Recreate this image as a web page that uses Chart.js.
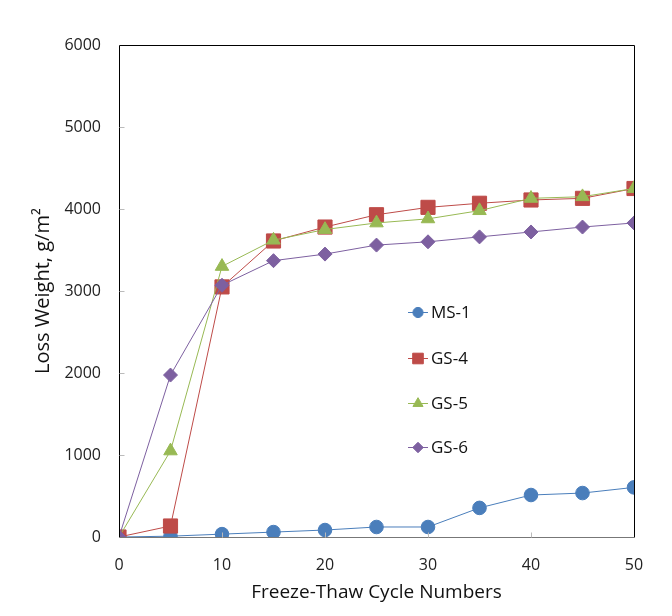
<!DOCTYPE html>
<html>
<head>
<meta charset="utf-8">
<script src="https://cdn.jsdelivr.net/npm/chart.js@4/dist/chart.umd.min.js"></script>
<style>
html,body{margin:0;padding:0;background:#fff;}
#wrap{width:672px;height:616px;position:relative;}
</style>
</head>
<body>
<div id="wrap"><canvas id="c" width="672" height="616"></canvas></div>
<script>
const cycles = [0, 5, 10, 15, 20, 25, 30, 35, 40, 45, 50];
const seriesNames = ['MS-1', 'GS-4', 'GS-5', 'GS-6'];
const ms1 = [0, 10, 35, 60, 85, 122, 122, 355, 512, 536, 605];
const gs4 = [0, 134, 3050, 3610, 3780, 3930, 4020, 4070, 4110, 4130, 4250];
const gs5 = [0, 1050, 3300, 3620, 3750, 3830, 3880, 3980, 4130, 4150, 4250];
const gs6 = [0, 1975, 3070, 3370, 3450, 3560, 3600, 3660, 3720, 3780, 3830];
const xTicks = [0, 10, 20, 30, 40, 50];
const yTicks = [0, 1000, 2000, 3000, 4000, 5000, 6000];

const colors = ['#4a7ebb', '#be4b48', '#98b954', '#7d60a0'];
const styles = ['circle', 'rect', 'triangle', 'rectRot'];
const radii = [6.8, 10, 7.8, 7];
const values = [ms1, gs4, gs5, gs6];
const FONT = "'Open Sans', 'DejaVu Sans', sans-serif";

const datasets = values.map((v, i) => ({
  label: seriesNames[i],
  data: cycles.map((x, j) => ({x: x, y: v[j]})),
  borderColor: colors[i],
  backgroundColor: colors[i],
  pointBackgroundColor: colors[i],
  pointBorderColor: colors[i],
  pointBorderWidth: 1,
  pointStyle: styles[i],
  pointRadius: radii[i],
  borderWidth: 1,
  tension: 0,
  order: 3 - i
}));

const boxPlugin = {
  id: 'box',
  afterDatasetsDraw(chart) {
    const {ctx, chartArea: a, scales} = chart;
    ctx.save();
    ctx.strokeStyle = '#000';
    ctx.lineWidth = 1;
    const L = Math.round(a.left) + 0.5, T = Math.round(a.top) + 0.5;
    const R = Math.round(a.right) + 0.5, B = Math.round(a.bottom) + 0.5;
    ctx.beginPath();
    ctx.moveTo(L, T); ctx.lineTo(R, T); ctx.lineTo(R, B);
    ctx.moveTo(L, T); ctx.lineTo(L, B);
    ctx.stroke();
    ctx.strokeStyle = '#777';
    ctx.beginPath();
    ctx.moveTo(L, B); ctx.lineTo(R, B);
    ctx.stroke();
    ctx.strokeStyle = '#bbb';
    ctx.beginPath();
    yTicks.forEach(v => {
      const y = Math.round(scales.y.getPixelForValue(v)) + 0.5;
      if (v > 0 && v < 6000) { ctx.moveTo(L, y); ctx.lineTo(L + 5, y); }
    });
    xTicks.forEach(v => {
      const x = Math.round(scales.x.getPixelForValue(v)) + 0.5;
      if (v > 0 && v < 50) { ctx.moveTo(x, B); ctx.lineTo(x, B - 5); }
    });
    ctx.stroke();
    ctx.restore();
  }
};

const legendPlugin = {
  id: 'customLegend',
  afterDraw(chart) {
    const {ctx} = chart;
    const ys = [312, 358, 403, 447];
    const x0 = 408, x1 = 428, xm = 418;
    ctx.save();
    chart.data.datasets.forEach((ds, i) => {
      const y = ys[i];
      ctx.strokeStyle = ds.borderColor;
      ctx.lineWidth = 1;
      ctx.beginPath();
      ctx.moveTo(x0, y + 0.5);
      ctx.lineTo(x1, y + 0.5);
      ctx.stroke();
      ctx.fillStyle = ds.backgroundColor;
      ctx.strokeStyle = ds.borderColor;
      Chart.helpers.drawPoint(ctx, {pointStyle: ds.pointStyle, rotation: 0, borderWidth: 1, radius: ds.pointRadius * 0.75}, xm, y + 0.5);
      ctx.fillStyle = '#111';
      ctx.font = '17px ' + FONT;
      ctx.textAlign = 'left';
      ctx.textBaseline = 'middle';
      ctx.fillText(ds.label, 431, y + 1);
    });
    ctx.restore();
  }
};

new Chart(document.getElementById('c'), {
  type: 'line',
  data: {datasets},
  options: {
    responsive: false,
    animation: false,
    layout: {padding: {left: 0, top: 45, right: 38, bottom: 12}},
    plugins: {legend: {display: false}, tooltip: {enabled: false}},
    scales: {
      x: {
        type: 'linear',
        min: 0, max: 50,
        afterBuildTicks(axis) { axis.ticks = xTicks.map(v => ({value: v})); },
        afterFit(axis) { axis.height = 616 - 537 - 12; },
        grid: {display: false},
        border: {display: false},
        ticks: {color: '#222', font: {size: 16, family: FONT}, padding: 11, maxRotation: 0,
                callback: v => String(v)},
        title: {display: true, text: 'Freeze-Thaw Cycle Numbers', color: '#111', font: {size: 19, family: FONT}, padding: {top: 0, bottom: 0}}
      },
      y: {
        type: 'linear',
        min: 0, max: 6000,
        afterBuildTicks(axis) { axis.ticks = yTicks.map(v => ({value: v})); },
        afterFit(axis) { axis.width = 119; },
        grid: {display: false},
        border: {display: false},
        ticks: {color: '#222', font: {size: 16, family: FONT}, padding: 10,
                callback: v => String(v)},
        title: {display: true, text: 'Loss Weight, g/m²', color: '#111', font: {size: 20, family: FONT}, padding: {top: 31, bottom: 0}}
      }
    }
  },
  plugins: [boxPlugin, legendPlugin]
});
</script>
</body>
</html>
